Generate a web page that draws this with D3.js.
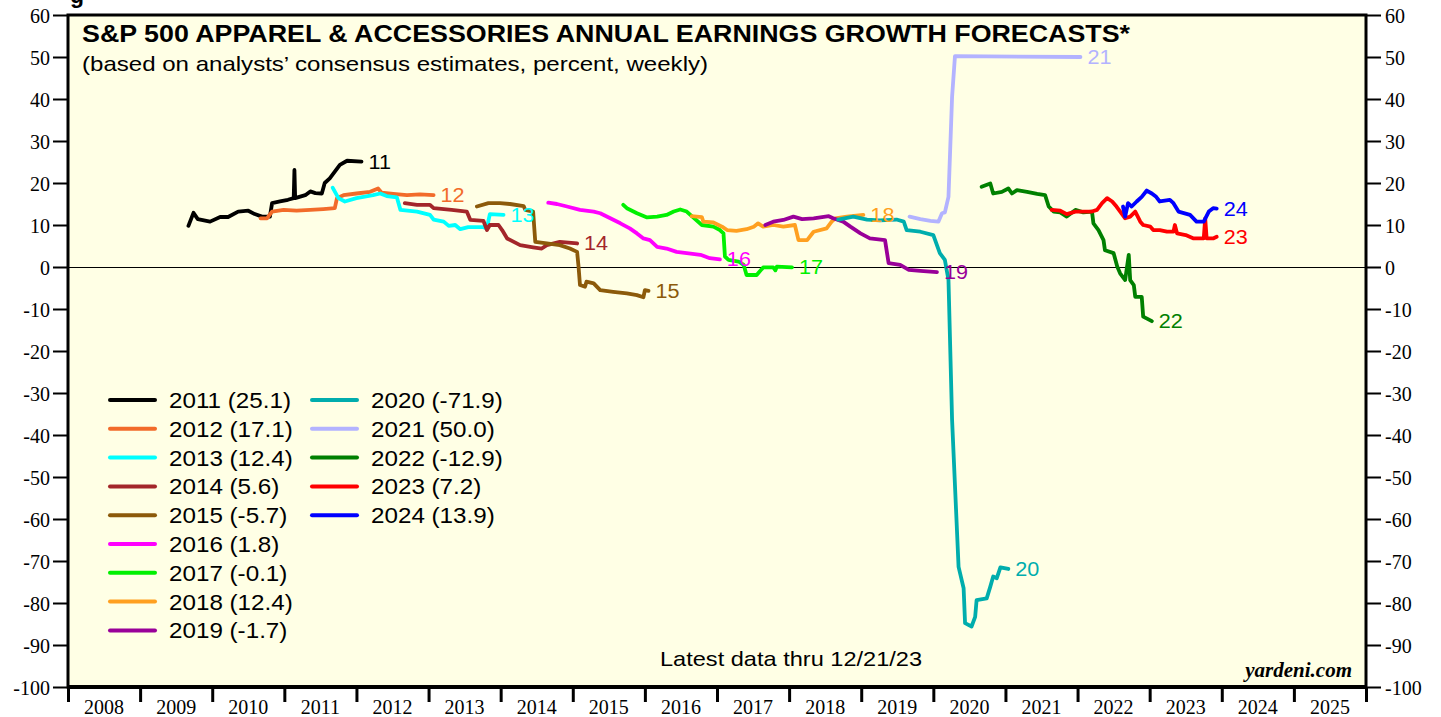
<!DOCTYPE html>
<html lang="en">
<head>
<meta charset="utf-8">
<title>S&amp;P 500 Apparel &amp; Accessories</title>
<style type="text/css">
  body { margin: 0; background: #ffffff; }
  svg text { font-family: Arial, "Liberation Sans", Helvetica, sans-serif; }
  .tick text { font-family: "Liberation Serif", "Times New Roman", serif; font-size: 20px; }
</style>
</head>
<body>
<script src="https://d3js.org/d3.v7.min.js"></script>
<script>

    var w = 1441;
    var h = 717;

    // year of each forecast series, with final value shown in the legend
    var years = [2011, 2012, 2013, 2014, 2015, 2016, 2017, 2018, 2019, 2020, 2021, 2022, 2023, 2024];
    var finalValues = ["25.1", "17.1", "12.4", "5.6", "-5.7", "1.8", "-0.1", "12.4", "-1.7", "-71.9", "50.0", "-12.9", "7.2", "13.9"];
    var colors = ["#000000", "#f26b2a", "#00ffff", "#a3262a", "#8c5a0a", "#ff00ff", "#00f000", "#ffa020",
                  "#990099", "#00adad", "#b3b3ff", "#008000", "#ff0000", "#0000ff"];
    var xTickYears = d3.range(2008, 2027);
    var yTicks = d3.range(-100, 61, 10);

    // weekly consensus growth forecasts, [decimal year, percent]
    var s2011 = [[2009.67,9.8],[2009.74,12.9],[2009.80,11.4],[2009.97,10.8],[2010.11,11.9],[2010.22,11.9],[2010.36,13.2],
        [2010.50,13.4],[2010.59,12.6],[2010.69,12.0],[2010.80,12.0],[2010.83,15.2],[2010.94,15.6],[2011.05,16.0],
        [2011.13,16.4],[2011.14,23.1],[2011.15,16.4],[2011.29,17.1],[2011.36,18.0],[2011.43,17.6],[2011.52,17.5],
        [2011.56,20.0],[2011.63,21.1],[2011.70,22.7],[2011.77,24.3],[2011.87,25.3],[2012.07,25.1]];
    var s2012 = [[2010.67,11.6],[2010.76,11.6],[2010.83,13.2],[2010.99,13.6],[2011.17,13.4],[2011.36,13.6],[2011.54,13.8],
        [2011.70,14.0],[2011.73,16.4],[2011.82,17.1],[2012.00,17.5],[2012.19,17.9],[2012.30,18.7],[2012.35,17.7],
        [2012.51,17.4],[2012.70,17.1],[2012.88,17.3],[2013.07,17.1]];
    var s2013 = [[2011.67,18.9],[2011.75,16.4],[2011.84,15.6],[2012.00,16.4],[2012.23,17.1],[2012.33,17.5],[2012.42,16.9],
        [2012.56,16.6],[2012.61,13.6],[2012.84,13.2],[2013.02,12.4],[2013.07,11.3],[2013.21,10.8],[2013.28,9.8],
        [2013.37,10.0],[2013.44,9.0],[2013.55,9.5],[2013.76,9.5],[2013.81,9.2],[2013.83,11.0],[2013.85,12.6],[2014.04,12.4]];
    var s2014 = [[2012.67,15.2],[2012.84,14.8],[2013.02,14.8],[2013.07,14.0],[2013.32,13.6],[2013.53,13.2],[2013.58,11.2],
        [2013.76,11.0],[2013.81,8.8],[2013.85,10.0],[2013.97,10.0],[2014.02,8.8],[2014.09,6.8],[2014.27,5.2],
        [2014.45,4.7],[2014.57,4.4],[2014.64,5.2],[2014.82,6.0],[2015.06,5.6]];
    var s2015 = [[2013.67,14.4],[2013.83,15.2],[2013.99,15.2],[2014.13,15.0],[2014.32,14.5],[2014.34,13.6],[2014.45,13.2],
        [2014.48,6.0],[2014.64,5.6],[2014.82,5.2],[2014.96,4.4],[2015.06,3.6],[2015.08,0.1],[2015.10,-4.3],
        [2015.17,-4.7],[2015.19,-3.5],[2015.29,-3.9],[2015.38,-5.5],[2015.56,-5.9],[2015.75,-6.3],[2015.89,-6.7],
        [2015.98,-7.2],[2016.00,-5.5],[2016.05,-5.7]];
    var s2016 = [[2014.66,15.3],[2014.78,15.0],[2014.92,14.4],[2015.10,13.6],[2015.29,13.2],[2015.38,12.8],[2015.52,11.6],
        [2015.66,10.4],[2015.79,9.2],[2015.89,8.0],[2015.98,6.8],[2016.07,6.4],[2016.17,4.8],[2016.30,4.4],
        [2016.44,3.6],[2016.58,3.3],[2016.77,2.9],[2016.90,2.1],[2017.04,1.8]];
    var s2017 = [[2015.70,14.8],[2015.75,14.0],[2015.89,12.8],[2016.03,11.8],[2016.17,12.0],[2016.30,12.4],[2016.40,13.2],
        [2016.49,13.7],[2016.58,13.2],[2016.65,12.1],[2016.79,10.0],[2016.95,9.6],[2017.04,8.8],[2017.09,8.0],
        [2017.11,2.5],[2017.16,1.7],[2017.30,1.3],[2017.37,0.5],[2017.41,-1.9],[2017.55,-1.9],[2017.64,-0.1],
        [2017.78,-0.1],[2017.81,-0.8],[2017.83,0.1],[2018.04,-0.1]];
    var s2018 = [[2016.65,12.1],[2016.79,11.9],[2016.81,10.8],[2016.95,10.6],[2017.07,9.6],[2017.14,8.8],[2017.27,8.6],
        [2017.41,9.0],[2017.51,9.6],[2017.57,10.4],[2017.64,9.6],[2017.78,10.0],[2017.92,9.6],[2018.08,10.0],
        [2018.13,6.4],[2018.25,6.4],[2018.34,8.4],[2018.52,9.2],[2018.59,10.8],[2018.64,11.6],[2018.80,12.0],[2019.03,12.4]];
    var s2019 = [[2017.67,10.0],[2017.78,10.8],[2017.92,11.2],[2018.06,12.0],[2018.18,11.4],[2018.34,11.6],[2018.55,12.1],
        [2018.61,11.6],[2018.75,10.8],[2018.85,9.6],[2018.99,8.0],[2019.12,6.8],[2019.33,6.4],[2019.38,0.9],
        [2019.54,0.5],[2019.66,-0.7],[2019.82,-0.9],[2020.05,-1.2]];
    var s2020 = [[2018.68,11.3],[2018.89,12.0],[2019.08,11.3],[2019.26,11.1],[2019.49,11.3],[2019.59,10.8],[2019.63,8.8],
        [2019.82,8.4],[2020.00,7.6],[2020.09,3.3],[2020.16,1.7],[2020.21,-3.1],[2020.26,-36.4],[2020.35,-71.4],
        [2020.42,-76.5],[2020.44,-84.8],[2020.53,-85.6],[2020.58,-83.3],[2020.60,-79.3],[2020.74,-78.9],[2020.79,-76.1],
        [2020.83,-73.7],[2020.88,-74.1],[2020.93,-71.5],[2021.04,-71.9]];
    var s2021 = [[2019.67,12.0],[2019.82,11.4],[2019.96,11.0],[2020.07,10.8],[2020.12,12.8],[2020.16,13.0],[2020.21,16.7],
        [2020.26,40.5],[2020.30,50.2],[2022.04,50.0]];
    var s2022 = [[2020.67,19.1],[2020.79,19.9],[2020.83,17.5],[2020.95,17.9],[2021.04,18.7],[2021.09,17.5],[2021.16,18.3],
        [2021.30,17.9],[2021.44,17.4],[2021.55,17.1],[2021.60,14.4],[2021.67,13.2],[2021.76,13.0],[2021.85,12.0],
        [2021.97,13.6],[2022.08,13.0],[2022.20,13.2],[2022.22,10.4],[2022.29,8.8],[2022.36,6.4],[2022.38,4.0],
        [2022.50,3.3],[2022.55,0.1],[2022.59,-1.5],[2022.66,-3.1],[2022.71,2.9],[2022.73,-3.1],[2022.78,-4.3],
        [2022.80,-7.1],[2022.89,-7.1],[2022.91,-11.8],[2023.03,-12.9]];
    var s2023 = [[2021.64,13.6],[2021.76,13.4],[2021.85,12.6],[2021.97,13.2],[2022.08,13.2],[2022.20,13.2],[2022.27,13.6],
        [2022.34,15.2],[2022.41,16.4],[2022.48,15.6],[2022.54,14.4],[2022.66,11.6],[2022.73,12.0],[2022.80,13.2],
        [2022.87,10.8],[2022.91,10.0],[2023.01,9.6],[2023.05,8.8],[2023.14,8.8],[2023.24,8.4],[2023.33,8.4],
        [2023.35,10.0],[2023.38,8.0],[2023.50,7.6],[2023.61,6.8],[2023.75,6.8],[2023.77,11.6],[2023.79,6.8],
        [2023.88,6.8],[2023.93,7.2]];
    var s2024 = [[2022.63,14.4],[2022.66,12.0],[2022.70,15.2],[2022.75,14.4],[2022.82,15.6],[2022.89,16.7],[2022.96,18.2],
        [2023.03,17.5],[2023.09,16.7],[2023.14,15.6],[2023.28,16.0],[2023.33,15.2],[2023.40,13.2],[2023.56,12.4],
        [2023.65,10.8],[2023.75,10.8],[2023.82,13.2],[2023.88,14.0],[2023.93,13.9]];

    var allSeries = [s2011, s2012, s2013, s2014, s2015, s2016, s2017, s2018, s2019, s2020, s2021, s2022, s2023, s2024];

    // plot box (note: "top" is a reserved window property, so use pl/pr/pt/pb)
    var pl = 68, pr = 1366, pt = 15, pb = 687;

    var x = d3.scaleLinear().domain([2008, 2026]).range([pl, pr]);
    var y = d3.scaleLinear().domain([-100, 60]).range([pb, pt]);

    var svg = d3.select("body")
            .append("svg")
            .attr("width", w)
            .attr("height", h);

    // stretch text horizontally a bit, the original font runs wider than Arial
    function stretch(sel, f) {
        sel.each(function() {
            var len = this.getComputedTextLength();
            d3.select(this).attr("textLength", len * f).attr("lengthAdjust", "spacingAndGlyphs");
        });
    }

    // cut-off text above the frame
    svg.append("text")
        .attr("x", 70).attr("y", 3)
        .style("font-weight", "bold").style("font-size", "23px")
        .text("g");

    // plot background
    svg.append("rect")
        .attr("x", pl).attr("y", pt)
        .attr("width", pr - pl).attr("height", pb - pt)
        .attr("fill", "#ffffe5");

    // y axes, left and right (plain hyphen minus like the original)
    var yFmt = function(d) { return String(d); };
    var yLeft = svg.append("g")
        .attr("transform", "translate(" + pl + ",0)")
        .call(d3.axisLeft(y).tickValues(yTicks).tickSize(15).tickPadding(3).tickFormat(yFmt));
    var yRight = svg.append("g")
        .attr("transform", "translate(" + pr + ",0)")
        .call(d3.axisRight(y).tickValues(yTicks).tickSize(15).tickPadding(4).tickFormat(yFmt));
    [yLeft, yRight].forEach(function(a) {
        a.select(".domain").remove();
        a.selectAll(".tick line").attr("stroke", "#000").attr("stroke-width", 2);
        a.selectAll(".tick text").attr("fill", "#000").attr("dy", "0.35em");
    });

    // x axis: ticks at year boundaries, labels centred on the year
    var xAxis = svg.append("g")
        .attr("transform", "translate(0," + pb + ")")
        .call(d3.axisBottom(x).tickValues(xTickYears).tickSize(15).tickFormat(""));
    xAxis.select(".domain").remove();
    xAxis.selectAll(".tick line").attr("stroke", "#000").attr("stroke-width", 3);
    svg.append("g").selectAll("text")
        .data(xTickYears.slice(0, -1))
        .enter()
        .append("text")
        .attr("x", function(d) { return x(d + 0.5); })
        .attr("y", 714)
        .attr("text-anchor", "middle")
        .style("font-family", "'Liberation Serif', 'Times New Roman', serif")
        .style("font-size", "20px")
        .text(function(d) { return d; });

    // zero line
    svg.append("line")
        .attr("x1", pl).attr("x2", pr)
        .attr("y1", y(0)).attr("y2", y(0))
        .attr("stroke", "#000").attr("stroke-width", 1)
        .attr("shape-rendering", "crispEdges");

    // series
    var line = d3.line()
        .x(function(d) { return x(d[0]); })
        .y(function(d) { return y(d[1]); });

    svg.append("g").selectAll("path")
        .data(allSeries)
        .enter()
        .append("path")
        .attr("d", line)
        .attr("fill", "none")
        .attr("stroke", function(d, i) { return colors[i]; })
        .attr("stroke-width", 3.8)
        .attr("stroke-linejoin", "round")
        .attr("stroke-linecap", "round");

    // end labels
    var endLabels = svg.append("g").selectAll("text")
        .data(allSeries)
        .enter()
        .append("text")
        .attr("x", function(d) { return x(d[d.length - 1][0]) + 7; })
        .attr("y", function(d) { return y(d[d.length - 1][1]); })
        .attr("dy", "0.35em")
        .attr("fill", function(d, i) { return colors[i]; })
        .style("font-size", "20px")
        .text(function(d, i) { return String(years[i]).slice(2); });
    stretch(endLabels, 1.08);

    // legend
    var legend = svg.append("g").selectAll("g")
        .data(years)
        .enter()
        .append("g")
        .attr("transform", function(d, i) {
            var col = i < 9 ? 0 : 1;
            var row = i < 9 ? i : i - 9;
            return "translate(" + (110 + col * 202) + "," + (400 + row * 28.8) + ")";
        });
    legend.append("line")
        .attr("x1", 0).attr("x2", 45)
        .attr("stroke", function(d, i) { return colors[i]; })
        .attr("stroke-width", 4)
        .attr("stroke-linecap", "round");
    var legendText = legend.append("text")
        .attr("x", 59)
        .attr("dy", "0.36em")
        .style("font-size", "22px")
        .text(function(d, i) { return d + " (" + finalValues[i] + ")"; });
    stretch(legendText, 1.1);

    // frame
    svg.append("rect")
        .attr("x", pl).attr("y", pt)
        .attr("width", pr - pl).attr("height", pb - pt)
        .attr("fill", "none")
        .attr("stroke", "#000").attr("stroke-width", 3);
    svg.append("line")
        .attr("x1", pl - 1).attr("x2", pr + 1)
        .attr("y1", pb).attr("y2", pb)
        .attr("stroke", "#000").attr("stroke-width", 4);

    // titles and notes
    svg.append("text")
        .attr("x", 82).attr("y", 42)
        .attr("textLength", 1048).attr("lengthAdjust", "spacingAndGlyphs")
        .style("font-weight", "bold").style("font-size", "24px")
        .text("S&P 500 APPAREL & ACCESSORIES ANNUAL EARNINGS GROWTH FORECASTS*");
    svg.append("text")
        .attr("x", 82).attr("y", 71)
        .attr("textLength", 626).attr("lengthAdjust", "spacingAndGlyphs")
        .style("font-size", "21px")
        .text("(based on analysts\u2019 consensus estimates, percent, weekly)");
    svg.append("text")
        .attr("x", 660).attr("y", 666)
        .attr("textLength", 262).attr("lengthAdjust", "spacingAndGlyphs")
        .style("font-size", "21px")
        .text("Latest data thru 12/21/23");
    svg.append("text")
        .attr("x", 1352).attr("y", 677)
        .attr("text-anchor", "end")
        .style("font-family", "'Liberation Serif', 'Times New Roman', serif")
        .style("font-weight", "bold").style("font-style", "italic")
        .style("font-size", "21px")
        .text("yardeni.com");

</script>
</body>
</html>
